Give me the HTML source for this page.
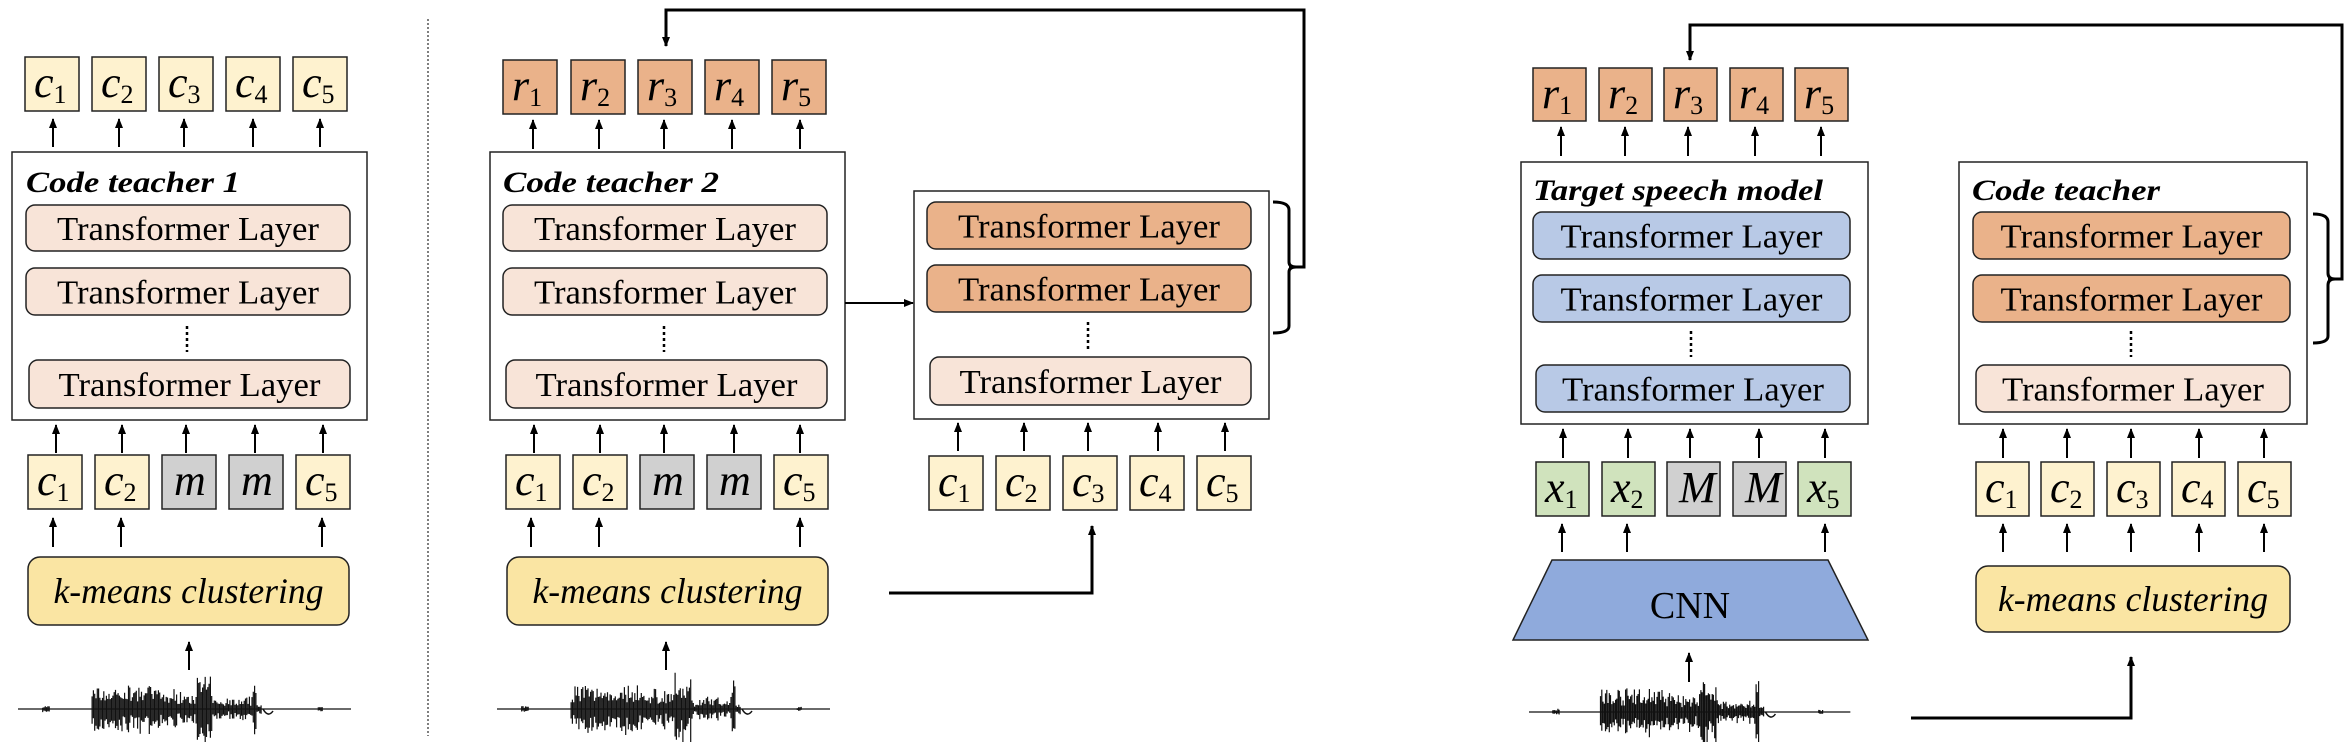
<!DOCTYPE html>
<html><head><meta charset="utf-8">
<style>
html,body{margin:0;padding:0;background:#fff;}
svg{display:block;}
.tl{font-family:"Liberation Serif","DejaVu Serif","Times New Roman",serif;font-size:34px;}
.ti{font-family:"Liberation Serif","DejaVu Serif","Times New Roman",serif;font-size:30px;font-weight:bold;font-style:italic;}
.km{font-family:"Liberation Serif","DejaVu Serif","Times New Roman",serif;font-size:36px;font-style:italic;}
.v{font-family:"Liberation Serif","DejaVu Serif","Times New Roman",serif;font-size:44px;font-style:italic;}
.s{font-size:26px;font-style:normal;}
</style></head>
<body>
<svg id="sv" width="2352" height="742" viewBox="0 0 2352 742" xmlns="http://www.w3.org/2000/svg">
<defs>
<marker id="ah" markerWidth="10" markerHeight="8" refX="9" refY="4" orient="auto" markerUnits="userSpaceOnUse" viewBox="0 0 10 8">
<path d="M0,0 L10,4 L0,8 Z" fill="#000"/></marker>
</defs>
<line x1="428" y1="19" x2="428" y2="736" stroke="#555" stroke-width="1.5" stroke-dasharray="2,2"/>
<g id="content"></g>
</svg>
<script>
const NS="http://www.w3.org/2000/svg";
const C=document.getElementById('content');
const FF='"Liberation Serif","DejaVu Serif","Times New Roman",serif';
function el(t,a,txt){const e=document.createElementNS(NS,t);for(const k in a)e.setAttribute(k,a[k]);if(txt!==undefined)e.textContent=txt;C.appendChild(e);return e;}
function rect(x,y,w,h,fill,rx,sw){el('rect',{x,y,width:w,height:h,fill,stroke:'#222','stroke-width':sw||1.5,rx:rx||0});}
function tok(x,y,letter,sub,fill,w,h){w=w||54;h=h||54;rect(x,y,w,h,fill);
 const t=el('text',{x:x+(letter=='m'||letter=='M'?12:9),y:y+40,class:'v','font-family':FF,'font-style':'italic','font-size':44});t.textContent=letter;
 if(sub){const s=document.createElementNS(NS,'tspan');s.setAttribute('font-size','26');s.setAttribute('font-style','normal');s.setAttribute('dy','6');s.textContent=sub;t.appendChild(s);}}
function tl(x,y,w,h,fill){rect(x,y,w,h,fill,9);el('text',{x:x+w/2,y:y+h/2+12,'text-anchor':'middle',class:'tl','font-family':FF,'font-size':34,textLength:262,lengthAdjust:'spacingAndGlyphs'},'Transformer Layer');}
function arr(x1,y1,x2,y2){el('line',{x1,y1,x2,y2,stroke:'#000','stroke-width':2,'marker-end':'url(#ah)'});}
function pl(pts,arrow){const a={points:pts,fill:'none',stroke:'#000','stroke-width':3};if(arrow)a['marker-end']='url(#ah)';el('polyline',a);}
function dots(x,y1,y2){el('line',{x1:x,y1,x2:x,y2,stroke:'#000','stroke-width':2.5,'stroke-dasharray':'3,3'});}
function km(x,y,w,h){rect(x,y,w,h,'#fae5a3',12);el('text',{x:x+w/2,y:y+h/2+12,'text-anchor':'middle',class:'km','font-family':FF,'font-style':'italic','font-size':36,textLength:270,lengthAdjust:'spacingAndGlyphs'},'k-means clustering');}
function title(x,y,t,len){el('text',{x,y,class:'ti','font-family':FF,'font-style':'italic','font-weight':'bold','font-size':30,textLength:len,lengthAdjust:'spacingAndGlyphs'},t);}
let seed=7;function rnd(){seed=(seed*16807)%2147483647;return seed/2147483647;}
function wave(x0,yc,scale){scale=scale||1;let d='M'+x0+','+yc+' L'+(x0+333*scale)+','+yc;
 const env=(u)=>{ if(u>24&&u<32)return 3;
  if(u>=74&&u<141)return 14+10*rnd();
  if(u>=141&&u<177)return 10+10*rnd();
  if(u>=177&&u<195)return 20+14*rnd();
  if(u>=195&&u<235)return 5+7*rnd();
  if(u>=235&&u<238)return 32;
  if(u>=238&&u<244)return 5;
  if(u>=300&&u<305)return 2;
  return 0;};
 for(let u=0;u<333;u+=1.3){const a=env(u);if(a>0){const up=a*(0.4+0.7*rnd()),dn=a*(0.4+0.7*rnd());const X=(x0+u*scale).toFixed(1);d+=' M'+X+','+(yc-up).toFixed(1)+' L'+X+','+(yc+dn).toFixed(1);}}
 el('path',{d,stroke:'#111','stroke-width':1.2,fill:'none'});
 el('path',{d:'M'+(x0+245*scale)+','+yc+' q5,9 10,2',stroke:'#111','stroke-width':1.5,fill:'none'});}
const Y='#fef2cf',O='#eab28a',P='#f8e4d8',G='#d0d0d0',GR='#d0e3bd',B='#b8c9e6',CN='#8faadc';

// Panel 1
[25,92,159,226,293].forEach((x,i)=>tok(x,57,'c',''+(i+1),Y));
[53,119,184,253,320].forEach(x=>arr(x,147,x,119));
rect(12,152,355,268,'#fff',0);
title(26,192,'Code teacher 1',214);
tl(26,205,324,46,P);tl(26,268,324,47,P);dots(187,326,352);tl(29,360,321,48,P);
[56,122,186,255,323].forEach(x=>arr(x,453,x,425));
tok(28,455,'c','1',Y);tok(95,455,'c','2',Y);tok(162,455,'m','',G);tok(229,455,'m','',G);tok(296,455,'c','5',Y);
[53,121,322].forEach(x=>arr(x,547,x,518));
km(28,557,321,68);
arr(189,670,189,642);
wave(18,709,1);

// Panel 2
[503,571,638,705,772].forEach((x,i)=>tok(x,60,'r',''+(i+1),O));
[533,599,664,732,800].forEach(x=>arr(x,149,x,120));
rect(490,152,355,268,'#fff',0);
title(503,192,'Code teacher 2',216);
tl(503,205,324,46,P);tl(503,268,324,47,P);dots(664,326,352);tl(506,360,321,48,P);
[534,600,664,734,800].forEach(x=>arr(x,453,x,425));
tok(506,455,'c','1',Y);tok(573,455,'c','2',Y);tok(640,455,'m','',G);tok(707,455,'m','',G);tok(774,455,'c','5',Y);
[531,599,800].forEach(x=>arr(x,547,x,518));
km(507,557,321,68);
arr(666,670,666,642);
wave(497,709,1);
rect(914,191,355,228,'#fff',0);
tl(927,202,324,47,O);tl(927,265,324,47,O);dots(1088,322,350);tl(930,357,321,48,P);
[958,1024,1088,1158,1225].forEach(x=>arr(x,451,x,423));
[929,996,1063,1130,1197].forEach((x,i)=>tok(x,456,'c',''+(i+1),Y));
arr(845,303,913,303);
pl('889,593 1092,593 1092,526',true);
el('path',{d:'M1273,202 Q1289,202 1289,210 L1289,262 Q1289,267 1296,267 Q1289,267 1289,272 L1289,326 Q1289,333 1273,333',fill:'none',stroke:'#000','stroke-width':3});
pl('1289,267 1304,267 1304,10 666,10 666,46',true);

// Panel 3
[1533,1599,1664,1730,1795].forEach((x,i)=>tok(x,68,'r',''+(i+1),O,53,53));
[1561,1625,1688,1755,1821].forEach(x=>arr(x,156,x,127));
rect(1521,162,347,262,'#fff',0);
title(1533,200,'Target speech model',290);
tl(1533,212,317,47,B);tl(1533,275,317,47,B);dots(1691,331,357);tl(1536,365,314,47,B);
[1563,1628,1690,1759,1825].forEach(x=>arr(x,458,x,429));
tok(1536,462,'x','1',GR,53);tok(1602,462,'x','2',GR,53);tok(1667,462,'M','',G,53);tok(1733,462,'M','',G,53);tok(1798,462,'x','5',GR,53);
[1562,1627,1825].forEach(x=>arr(x,552,x,524));
el('polygon',{points:'1552,560 1828,560 1868,640 1513,640',fill:CN,stroke:'#222','stroke-width':1.5});
el('text',{x:1690,y:618,'text-anchor':'middle','font-family':FF,'font-size':38},'CNN');
arr(1689,682,1689,653);
wave(1529,712,0.965);
rect(1959,162,348,262,'#fff',0);
title(1972,200,'Code teacher',188);
tl(1973,212,317,47,O);tl(1973,275,317,47,O);dots(2131,331,357);tl(1976,365,314,47,P);
[2003,2067,2131,2199,2264].forEach(x=>arr(x,458,x,429));
[1976,2041,2107,2172,2238].forEach((x,i)=>tok(x,462,'c',''+(i+1),Y,53));
[2003,2067,2131,2199,2264].forEach(x=>arr(x,552,x,524));
km(1976,566,314,66);
pl('1911,718 2131,718 2131,657',true);
el('path',{d:'M2313,214 Q2328,214 2328,222 L2328,273 Q2328,279 2335,279 Q2328,279 2328,285 L2328,336 Q2328,343 2313,343',fill:'none',stroke:'#000','stroke-width':3});
pl('2328,279 2342,279 2342,25 1690,25 1690,60',true);
</script>
</body></html>
